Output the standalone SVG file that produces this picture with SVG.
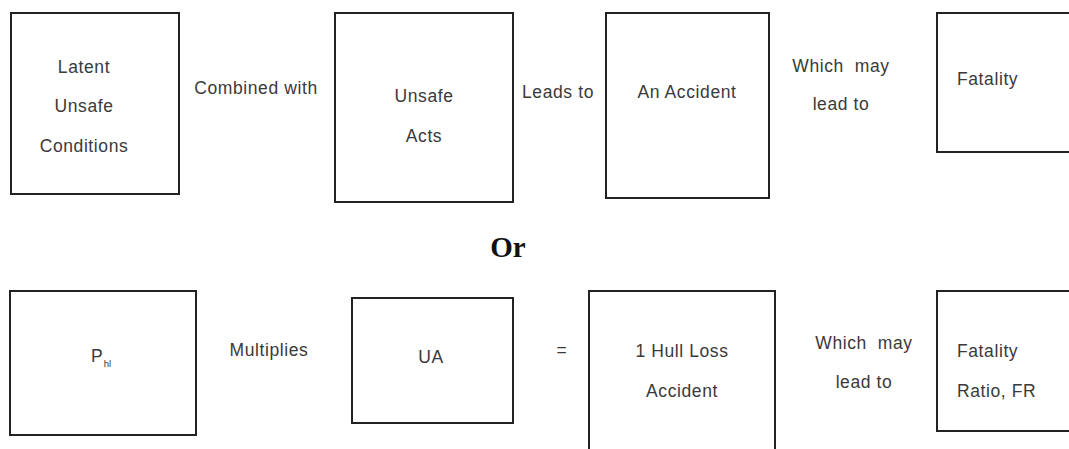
<svg xmlns="http://www.w3.org/2000/svg" width="1069" height="449" viewBox="0 0 1069 449">
<style>
.box{fill:#fff;stroke:#222;stroke-width:2}
.t{font-family:"Liberation Sans",Arial,sans-serif;font-size:17.5px;fill:#3a3a3a;letter-spacing:0.6px}
.m{text-anchor:middle}
.or{font-family:"Liberation Serif","Times New Roman",serif;font-size:29px;font-weight:bold;fill:#111;text-anchor:middle}
</style>
<rect width="1069" height="449" fill="#fff"/>
<g id="n-latent"><rect class="box" x="11" y="13" width="168" height="181"/>
<text class="t m" x="84" y="73">Latent</text><text class="t m" x="84" y="112">Unsafe</text><text class="t m" x="84" y="152">Conditions</text></g>
<g id="n-unsafe-acts"><rect class="box" x="335" y="13" width="178" height="189"/>
<text class="t m" x="424" y="102">Unsafe</text><text class="t m" x="424" y="142">Acts</text></g>
<g id="n-accident"><rect class="box" x="606" y="13" width="163" height="185"/>
<text class="t m" x="687" y="98">An Accident</text></g>
<g id="n-fatality"><rect class="box" x="937" y="13" width="140" height="139"/>
<text class="t" x="957" y="85">Fatality</text></g>
<g id="n-phl"><rect class="box" x="10" y="291" width="186" height="144"/>
<text class="t" x="91" y="362" style="letter-spacing:0">P<tspan dx="1" dy="5" style="font-size:9.5px">hl</tspan></text></g>
<g id="n-ua"><rect class="box" x="352" y="298" width="161" height="125"/>
<text class="t m" x="431" y="363">UA</text></g>
<g id="n-hull"><rect class="box" x="589" y="291" width="186" height="170"/>
<text class="t m" x="682" y="357">1 Hull Loss</text><text class="t m" x="682" y="397">Accident</text></g>
<g id="n-fr"><rect class="box" x="937" y="291" width="140" height="140"/>
<text class="t" x="957" y="357">Fatality</text><text class="t" x="957" y="397">Ratio, FR</text></g>
<g id="connectors">
<text class="t m" x="256" y="94">Combined with</text>
<text class="t m" x="558" y="98">Leads to</text>
<text class="t m" x="841" y="72" xml:space="preserve">Which  may</text>
<text class="t m" x="841" y="110">lead to</text>
<text class="or" x="508" y="257">Or</text>
<text class="t m" x="269" y="356">Multiplies</text>
<text class="t m" x="562" y="356">=</text>
<text class="t m" x="864" y="349" xml:space="preserve">Which  may</text>
<text class="t m" x="864" y="388">lead to</text>
</g>
</svg>
